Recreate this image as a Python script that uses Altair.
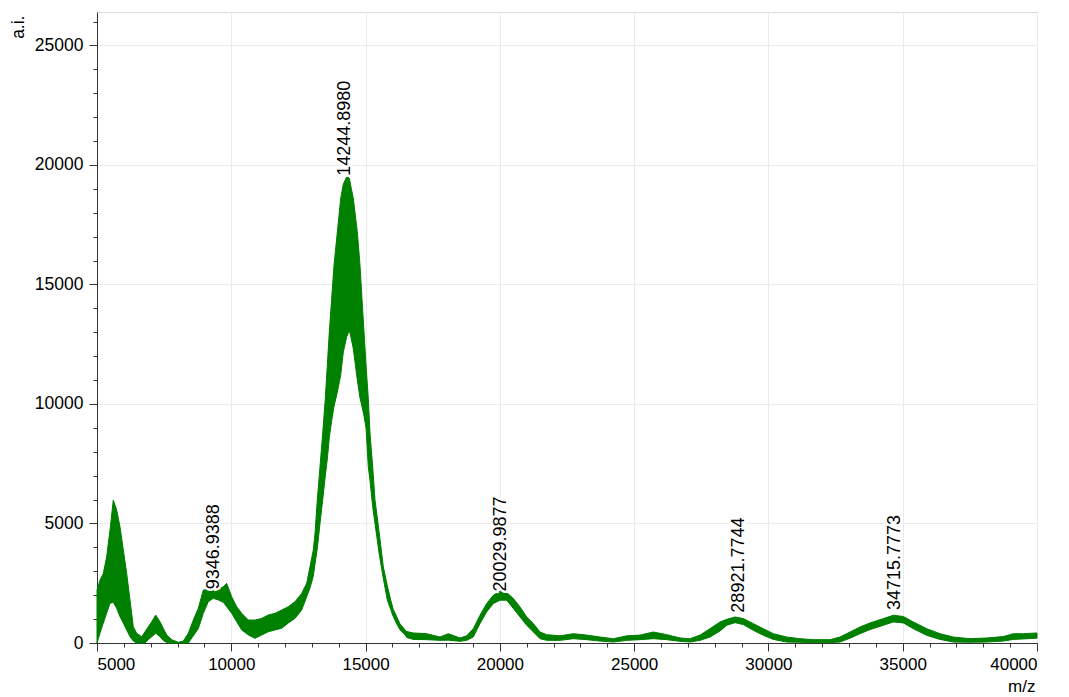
import altair as alt
import pandas as pd

# m/z sample positions with the lower and upper edge of the (noisy) signal band
mz = [5000, 5112, 5235, 5360, 5484, 5607, 5733, 5856, 5980, 6105, 6229, 6352, 6477, 6664, 6787,
      6910, 7037, 7186, 7346, 7470, 7596, 7782, 8027, 8213, 8400, 8586, 8772, 8958, 9145, 9330,
      9516, 9703, 9827, 10016, 10201, 10388, 10636, 10883, 11132, 11380, 11628, 11877, 12123, 12372,
      12621, 12808, 12931, 13054, 13117, 13203, 13303, 13403, 13501, 13576, 13650, 13738, 13825,
      13949, 14073, 14172, 14296, 14395, 14445, 14545, 14693, 14793, 14867, 14942, 15017, 15102,
      15165, 15265, 15351, 15511, 15660, 15809, 15936, 16033, 16159, 16282, 16468, 16531, 16777,
      17274, 17771, 18080, 18516, 18763, 19011, 19260, 19509, 19757, 20006, 20255, 20503, 20750,
      21000, 21250, 21495, 21744, 22240, 22737, 23233, 23730, 24226, 24723, 25219, 25716, 26213,
      26709, 27081, 27453, 27825, 28197, 28446, 28756, 29066, 29438, 29810, 30182, 30680, 31175,
      31672, 32293, 32665, 33037, 33410, 33782, 34278, 34650, 35023, 35395, 35892, 36388, 36885,
      37506, 38127, 38748, 39120, 39493, 40000]

upper = [2215, 2630, 2910, 3610, 4720, 5980, 5560, 4860, 3890, 2910, 1800, 680, 405, 265, 470,
         680, 890, 1170, 890, 610, 335, 140, 30, 80, 405, 960, 1450, 2215, 2245, 2245,
         2245, 2355, 2495, 1935, 1520, 1240, 960, 960, 1030, 1170, 1240, 1380, 1520, 1730,
         2075, 2500, 3190, 3890, 4585, 5980, 7370, 8770, 10229, 11622, 13015, 14410, 15803,
         17196, 18590, 19200, 19500, 19450, 19150, 18590, 17196, 15803, 14410, 13015, 11622, 10229,
         8770, 7370, 5980, 4585, 3190, 2400, 1800, 1400, 1100, 800, 550, 480, 420,
         390, 250, 390, 210, 300, 600, 1160, 1650, 2000, 2170, 2110, 1860, 1510,
         1090, 810, 460, 350, 300, 390, 330, 250, 180, 300, 330, 460, 350,
         210, 180, 330, 600, 880, 990, 1090, 1020, 810, 600, 390, 250, 180,
         140, 140, 250, 460, 670, 840, 1020, 1160, 1110, 880, 600, 390, 250,
         180, 210, 270, 390, 390, 420]

lower = [0, 420, 835, 1250, 1660, 1700, 1450, 1100, 835, 545, 265, 80, 0, 0, 0,
         140, 265, 405, 265, 100, 20, 0, 0, 0, 0, 300, 600, 1240, 1730, 1870,
         1800, 1700, 1520, 1240, 890, 545, 335, 195, 335, 470, 545, 615, 835, 1030,
         1380, 1935, 2300, 2800, 3300, 3950, 5000, 5980, 7000, 7700, 8600, 9300, 9900,
         10500, 11200, 12180, 12800, 13085, 12850, 12300, 11000, 10250, 9900, 9500, 9000, 7370,
         6800, 5700, 5000, 3700, 2700, 1800, 1400, 1100, 800, 550, 350, 230, 150,
         140, 110, 120, 70, 110, 250, 810, 1300, 1650, 1790, 1790, 1440, 1090,
         740, 460, 180, 110, 110, 180, 140, 80, 40, 110, 140, 180, 140,
         70, 40, 110, 250, 500, 740, 850, 770, 530, 320, 150, 40, 30,
         15, 15, 40, 200, 390, 560, 740, 880, 840, 600, 320, 150, 40,
         30, 40, 80, 150, 170, 200]

peak_mz = [9346.9388, 14244.8980, 20029.9877, 28921.7744, 34715.7773]
peak_text = ["9346.9388", "14244.8980", "20029.9877", "28921.7744", "34715.7773"]
peak_ai = [2250, 19550, 2150, 1270, 1380]

x_major = [5000, 10000, 15000, 20000, 25000, 30000, 35000, 40000]
x_minor = list(range(5000, 40001, 1000))
y_major = [0, 5000, 10000, 15000, 20000, 25000]
y_minor = list(range(0, 26001, 1000))

spec = pd.DataFrame({"mz": mz, "upper": upper, "lower": lower})
peaks = pd.DataFrame({"mz": peak_mz, "label": peak_text, "ai": peak_ai})

FONT = "Liberation Sans"
GREEN = "#008000"
xscale = alt.Scale(domain=[5000, 40000], nice=False, zero=False)
yscale = alt.Scale(domain=[0, 26400], nice=False, zero=False)

common_axis = dict(labelFont=FONT, labelColor="#000000", tickColor="#333333",
                   domainColor="#333333", gridColor="#ebebeb", titleFont=FONT,
                   titleColor="#000000", titleFontWeight="normal")

area = alt.Chart(spec).mark_area(color=GREEN, stroke=GREEN, strokeWidth=1,
                                 interpolate="linear").encode(
    x=alt.X("mz:Q", scale=xscale,
            axis=alt.Axis(values=x_major, format="d", orient="bottom", grid=True,
                          tickSize=8, labelPadding=5, labelFontSize=17,
                          title="m/z", titleFontSize=17, titleAnchor="end",
                          titleAlign="right", titleBaseline="middle",
                          titleX=938, titleY=43, **common_axis)),
    y=alt.Y("lower:Q", scale=yscale,
            axis=alt.Axis(values=y_major, format="d", orient="left", grid=True,
                          tickSize=8, labelPadding=6, labelFontSize=17.5,
                          title="a.i.", titleFontSize=17.5, titleAngle=270,
                          titleAlign="right", titleBaseline="middle",
                          titleX=-79, titleY=3, **common_axis)),
    y2="upper:Q",
)

halo = alt.Chart(peaks).mark_text(angle=270, align="left", baseline="middle",
                                  font=FONT, fontSize=18, color="#ffffff",
                                  stroke="#ffffff", strokeWidth=5).encode(
    x=alt.X("mz:Q", scale=xscale,
            axis=alt.Axis(values=x_minor, orient="bottom", labels=False, grid=False,
                          domain=False, tickSize=4, title=None, tickColor="#333333")),
    y=alt.Y("ai:Q", scale=yscale,
            axis=alt.Axis(values=y_minor, orient="left", labels=False, grid=False,
                          domain=False, tickSize=4, title=None, tickColor="#333333")),
    text="label:N",
)

labels = alt.Chart(peaks).mark_text(angle=270, align="left", baseline="middle",
                                    font=FONT, fontSize=18, color="#000000").encode(
    x=alt.X("mz:Q", scale=xscale, axis=None),
    y=alt.Y("ai:Q", scale=yscale, axis=None),
    text="label:N",
)

chart = alt.layer(area, halo, labels).resolve_axis(
    x="independent", y="independent"
).properties(
    width=940, height=631,
    padding={"left": 89, "top": 4, "right": 24, "bottom": 56},
    autosize=alt.AutoSizeParams(type="none"),
).configure_view(stroke="#333333", strokeWidth=1).configure(background="#ffffff")

chart.save("out.html", embed_options={"renderer": "svg", "actions": False})
